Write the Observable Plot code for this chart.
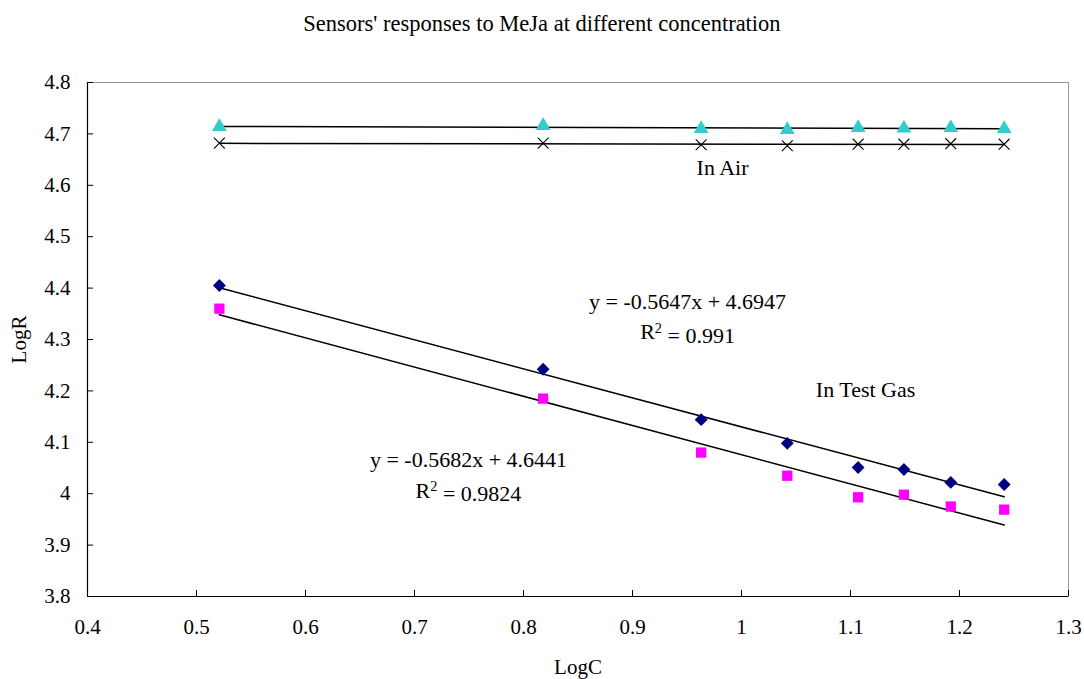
<!DOCTYPE html>
<html>
<head>
<meta charset="utf-8">
<script src="https://cdn.jsdelivr.net/npm/d3@7"></script>
<script src="https://cdn.jsdelivr.net/npm/@observablehq/plot@0.6"></script>
<style>
  body { margin: 0; background: #fff; font-family: "Liberation Serif", "Times New Roman", serif; }
  #title { height: 45px; text-align: center; font-size: 22.5px; line-height: 48px; color: #000; }
</style>
</head>
<body>
<div id="title">Sensors' responses to MeJa at different concentration</div>
<div id="chart"></div>
<script>
// Data
const logC = [0.521, 0.818, 0.963, 1.042, 1.107, 1.149, 1.192, 1.241];
const gasA = [4.405, 4.242, 4.144, 4.098, 4.051, 4.047, 4.022, 4.018]; // navy diamonds
const gasB = [4.360, 4.185, 4.080, 4.035, 3.993, 3.998, 3.975, 3.969]; // magenta squares
const airA = [4.714, 4.716, 4.710, 4.708, 4.712, 4.711, 4.712, 4.710]; // cyan triangles
const airB = [4.682, 4.682, 4.679, 4.677, 4.680, 4.680, 4.681, 4.680]; // x marks
const fitSlopes = [-0.5647, -0.5682];
const fitIntercepts = [4.6947, 4.6441];
const xTicks = [0.4, 0.5, 0.6, 0.7, 0.8, 0.9, 1.0, 1.1, 1.2, 1.3];
const yTicks = [3.8, 3.9, 4.0, 4.1, 4.2, 4.3, 4.4, 4.5, 4.6, 4.7, 4.8];
const annotations = [
  {x: 0.9826, y: 4.633, text: "In Air"},
  {x: 0.9505, y: 4.374, text: "y = -0.5647x + 4.6947"},
  {x: 0.9505, y: 4.314, text: "R² = 0.991"},
  {x: 1.1138, y: 4.201, text: "In Test Gas"},
  {x: 0.7495, y: 4.0665, text: "y = -0.5682x + 4.6441"},
  {x: 0.7495, y: 4.006, text: "R² = 0.9824"}
];

const pts = (ys) => logC.map((x, i) => ({x, y: ys[i]}));
const xmin = d3.min(logC), xmax = d3.max(logC);
const fitLines = fitSlopes.map((a, k) => [xmin, xmax].map(x => ({x, y: a * x + fitIntercepts[k]})));
const fmt = d => String(+d.toFixed(1));
const font = "Liberation Serif, Times New Roman, serif";

const chart = Plot.plot({
  width: 1084,
  height: 634,
  marginTop: 37,
  marginBottom: 83,
  marginLeft: 87,
  marginRight: 16,
  style: {fontFamily: font, fontSize: "21px", color: "#000", background: "#fff"},
  x: {domain: [0.4, 1.3], ticks: xTicks},
  y: {domain: [3.8, 4.8], ticks: yTicks},
  marks: [
    Plot.frame({stroke: "#999", strokeWidth: 1}),
    Plot.ruleX([0.4], {stroke: "#000", strokeWidth: 1.2}),
    Plot.ruleY([3.8], {stroke: "#000", strokeWidth: 1.2}),
    Plot.axisX({ticks: xTicks, tickSize: -6, text: null, label: null, stroke: "#000"}),
    Plot.axisY({ticks: yTicks, tickSize: -6, text: null, label: null, stroke: "#000"}),
    Plot.axisX({ticks: xTicks, tickSize: 0, tickPadding: 23, tickFormat: fmt, fontSize: 21, label: "LogC", labelAnchor: "center", labelArrow: "none", labelOffset: 77}),
    Plot.axisY({ticks: yTicks, tickSize: 0, tickPadding: 17, tickFormat: fmt, fontSize: 21, label: "LogR", labelAnchor: "center", labelArrow: "none", labelOffset: 76}),
    Plot.linearRegressionY(pts(airA), {x: "x", y: "y", ci: 0, stroke: "#000", strokeWidth: 1.5}),
    Plot.linearRegressionY(pts(airB), {x: "x", y: "y", ci: 0, stroke: "#000", strokeWidth: 1.5}),
    ...fitLines.map(l => Plot.line(l, {x: "x", y: "y", stroke: "#000", strokeWidth: 1.5})),
    Plot.dot(pts(airA), {x: "x", y: "y", symbol: "triangle", r: 5.5, fill: "#33CCCC", stroke: "none"}),
    Plot.dot(pts(airB), {x: "x", y: "y", symbol: "times", r: 5, stroke: "#000", strokeWidth: 1.1, fill: "none"}),
    Plot.dot(pts(gasA), {x: "x", y: "y", symbol: "diamond2", r: 5.8, fill: "#000080", stroke: "none"}),
    Plot.dot(pts(gasB), {x: "x", y: "y", symbol: "square", r: 5.8, fill: "#FF00FF", stroke: "none"}),
    Plot.text(annotations, {x: "x", y: "y", text: "text", fontSize: 22, fill: "#000", textAnchor: "middle", lineAnchor: "middle"})
  ]
});
// render R² with a true superscript
d3.select(chart).selectAll("text").each(function() {
  const t = this.textContent;
  if (t.startsWith("R²")) {
    const rest = t.slice(2);
    const sel = d3.select(this);
    sel.text(null);
    sel.append("tspan").text("R");
    sel.append("tspan").attr("dy", "-0.45em").attr("font-size", "0.65em").text("2");
    sel.append("tspan").attr("dy", "0.45em").text(rest);
  }
});
document.getElementById("chart").appendChild(chart);
</script>
</body>
</html>
